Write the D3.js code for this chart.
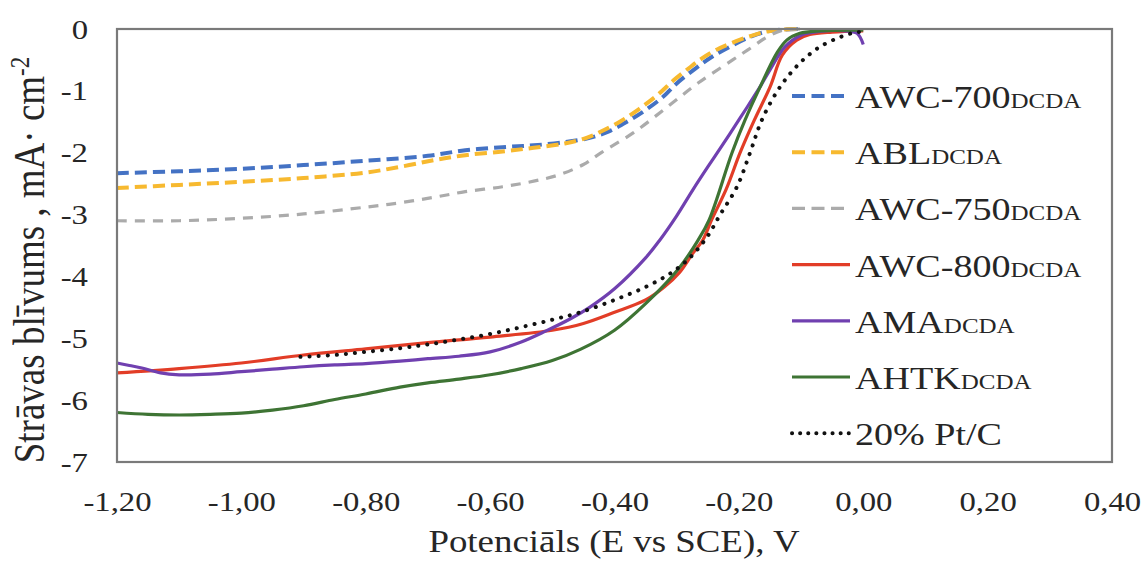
<!DOCTYPE html>
<html>
<head>
<meta charset="utf-8">
<script src="https://cdn.jsdelivr.net/npm/d3@7"></script>
<style>
  html, body { margin: 0; padding: 0; background: #fff; }
  svg { display: block; }
</style>
</head>
<body>
<script>
// ---------- data (potential V vs SCE, current density mA/cm2) ----------
const xTicks = [-1.2, -1.0, -0.8, -0.6, -0.4, -0.2, 0.0, 0.2, 0.4];
const yTicks = [0, -1, -2, -3, -4, -5, -6, -7];

const legendNames = ["AWC-700", "ABL", "AWC-750", "AWC-800", "AMA", "AHTK", "20% Pt/C"];
const legendSubs  = ["DCDA", "DCDA", "DCDA", "DCDA", "DCDA", "DCDA", ""];

const awc700 = [[-1.20,-2.33],[-1.10,-2.30],[-1.00,-2.26],[-0.90,-2.20],[-0.80,-2.13],[-0.70,-2.05],[-0.64,-1.96],[-0.58,-1.91],[-0.53,-1.88],[-0.48,-1.83],[-0.44,-1.76],[-0.41,-1.66],[-0.38,-1.50],[-0.35,-1.31],[-0.32,-1.08],[-0.30,-0.88],[-0.27,-0.64],[-0.245,-0.46],[-0.215,-0.29],[-0.18,-0.12],[-0.155,-0.04],[-0.13,-0.01],[-0.10,0]];
const abl = [[-1.20,-2.57],[-1.10,-2.52],[-1.00,-2.47],[-0.90,-2.41],[-0.80,-2.32],[-0.74,-2.22],[-0.69,-2.12],[-0.64,-2.04],[-0.58,-1.98],[-0.53,-1.92],[-0.48,-1.85],[-0.445,-1.76],[-0.42,-1.65],[-0.39,-1.49],[-0.36,-1.29],[-0.33,-1.06],[-0.305,-0.83],[-0.28,-0.63],[-0.26,-0.48],[-0.235,-0.33],[-0.21,-0.22],[-0.18,-0.11],[-0.155,-0.04],[-0.13,-0.01],[-0.10,0]];
const awc750 = [[-1.20,-3.10],[-1.10,-3.10],[-1.00,-3.06],[-0.90,-2.99],[-0.80,-2.88],[-0.745,-2.81],[-0.69,-2.72],[-0.64,-2.63],[-0.58,-2.55],[-0.53,-2.46],[-0.49,-2.36],[-0.45,-2.19],[-0.42,-1.99],[-0.37,-1.68],[-0.315,-1.26],[-0.265,-0.87],[-0.21,-0.50],[-0.18,-0.30],[-0.155,-0.13],[-0.13,-0.02],[-0.10,0]];
const awc800 = [[-1.20,-5.56],[-1.10,-5.49],[-1.00,-5.40],[-0.90,-5.27],[-0.80,-5.17],[-0.70,-5.07],[-0.60,-4.98],[-0.50,-4.87],[-0.45,-4.76],[-0.40,-4.58],[-0.35,-4.38],[-0.32,-4.17],[-0.295,-3.93],[-0.275,-3.64],[-0.258,-3.41],[-0.244,-3.09],[-0.22,-2.58],[-0.198,-2.0],[-0.175,-1.47],[-0.15,-0.94],[-0.13,-0.42],[-0.107,-0.18],[-0.086,-0.09],[-0.05,-0.05],[0.0,-0.03]];
const ama = [[-1.20,-5.40],[-1.18,-5.44],[-1.16,-5.48],[-1.13,-5.56],[-1.10,-5.59],[-1.05,-5.58],[-1.00,-5.54],[-0.95,-5.50],[-0.90,-5.46],[-0.85,-5.43],[-0.80,-5.41],[-0.745,-5.37],[-0.70,-5.33],[-0.65,-5.29],[-0.60,-5.22],[-0.55,-5.06],[-0.51,-4.88],[-0.47,-4.68],[-0.44,-4.50],[-0.40,-4.20],[-0.35,-3.70],[-0.327,-3.41],[-0.30,-3.02],[-0.274,-2.60],[-0.25,-2.23],[-0.226,-1.87],[-0.20,-1.47],[-0.182,-1.19],[-0.165,-0.92],[-0.15,-0.66],[-0.126,-0.29],[-0.10,-0.10],[-0.07,-0.04],[-0.03,-0.03],[-0.01,-0.07],[0.0,-0.25]];
const ahtk = [[-1.20,-6.20],[-1.15,-6.23],[-1.10,-6.24],[-1.05,-6.23],[-1.00,-6.21],[-0.95,-6.16],[-0.90,-6.09],[-0.85,-5.99],[-0.80,-5.90],[-0.745,-5.79],[-0.70,-5.72],[-0.65,-5.66],[-0.60,-5.59],[-0.55,-5.49],[-0.50,-5.36],[-0.455,-5.18],[-0.40,-4.87],[-0.35,-4.44],[-0.295,-3.85],[-0.266,-3.42],[-0.248,-3.09],[-0.211,-2.0],[-0.19,-1.47],[-0.166,-0.94],[-0.139,-0.39],[-0.123,-0.18],[-0.102,-0.07],[-0.07,-0.03],[0.0,-0.02]];
const ptc = [[-0.905,-5.30],[-0.85,-5.27],[-0.80,-5.22],[-0.745,-5.16],[-0.70,-5.10],[-0.65,-5.02],[-0.60,-4.93],[-0.55,-4.82],[-0.50,-4.70],[-0.455,-4.58],[-0.40,-4.38],[-0.35,-4.17],[-0.31,-3.95],[-0.279,-3.70],[-0.251,-3.36],[-0.23,-3.0],[-0.203,-2.55],[-0.182,-2.0],[-0.163,-1.47],[-0.134,-0.94],[-0.102,-0.55],[-0.07,-0.29],[-0.037,-0.13],[-0.015,-0.06],[0.0,-0.04]];

// ---------- layout / style ----------
const W = 1143, H = 562;
const plot = { left: 117, right: 1112, top: 29, bottom: 462 };
const SX = 1.19; // horizontal text stretch of the original picture
const FONT = "'Liberation Serif', 'Times New Roman', serif";
const TEXT = "#262626";

const series = [
  { data: awc700, color: "#4472c4", width: 4,   dash: "12 6" },
  { data: abl,    color: "#f7b92f", width: 4,   dash: "12 6" },
  { data: awc750, color: "#ababab", width: 3.2, dash: "10 8" },
  { data: awc800, color: "#e23d27", width: 3.2, dash: null },
  { data: ama,    color: "#7040b0", width: 3.2, dash: null },
  { data: ahtk,   color: "#3e7434", width: 3.2, dash: null },
  { data: ptc,    color: "#111111", width: 4,   dash: "0.1 9", cap: "round" }
];

const svg = d3.select("body").append("svg").attr("width", W).attr("height", H);

const x = d3.scaleLinear().domain([-1.2, 0.4]).range([plot.left, plot.right]);
const y = d3.scaleLinear().domain([-7, 0]).range([plot.bottom, plot.top]);

// curves
const line = d3.line().x(d => x(d[0])).y(d => Math.max(y(d[1]), plot.top)).curve(d3.curveCatmullRom.alpha(0.5));
const gLines = svg.append("g");
series.forEach(s => {
  gLines.append("path")
    .attr("d", line(s.data))
    .attr("fill", "none")
    .attr("stroke", s.color)
    .attr("stroke-width", s.width)
    .attr("stroke-dasharray", s.dash)
    .attr("stroke-linecap", s.cap || "butt")
    .attr("stroke-linejoin", "round");
});

// frame
svg.append("rect")
  .attr("x", plot.left).attr("y", plot.top)
  .attr("width", plot.right - plot.left).attr("height", plot.bottom - plot.top)
  .attr("fill", "none").attr("stroke", "#7a7a7a").attr("stroke-width", 2.2);

// axes
const fmtX = d => { const s = Math.abs(d) < 1e-9 ? "0.00" : d.toFixed(2); return s.replace(".", ","); };
const gx = svg.append("g").attr("transform", `translate(0,${plot.bottom})`)
  .call(d3.axisBottom(x).tickValues(xTicks).tickSize(0).tickFormat(fmtX));
gx.select(".domain").remove();
gx.selectAll("text")
  .attr("y", null).attr("dy", null)
  .attr("transform", `translate(0,49) scale(${SX},1)`)
  .attr("text-anchor", "middle")
  .style("font-family", FONT).style("font-size", "27.5px").attr("fill", TEXT);

const gy = svg.append("g").attr("transform", `translate(${plot.left},0)`)
  .call(d3.axisLeft(y).tickValues(yTicks).tickSize(0).tickFormat(d => String(d)));
gy.select(".domain").remove();
gy.selectAll("text")
  .attr("x", null).attr("dy", null)
  .attr("transform", `translate(-29,9) scale(${SX},1)`)
  .attr("text-anchor", "end")
  .style("font-family", FONT).style("font-size", "27.5px").attr("fill", TEXT);

// axis titles
svg.append("text")
  .attr("transform", `translate(614,552) scale(${SX},1)`)
  .attr("text-anchor", "middle")
  .style("font-family", FONT).style("font-size", "31px").attr("fill", TEXT)
  .text("Potenciāls (E vs SCE), V");

const yt = svg.append("text")
  .attr("transform", `translate(44,260) scale(${SX},1) rotate(-90)`)
  .attr("text-anchor", "middle")
  .style("font-family", FONT).style("font-size", "37px").attr("fill", TEXT);
yt.append("tspan").text("Strāvas blīvums , mA· cm");
yt.append("tspan").attr("dy", -13).style("font-size", "23px").text("-2");

// legend
const lg = svg.append("g");
legendNames.forEach((name, i) => {
  const s = series[i];
  const ly = 96 + i * 56.2;
  lg.append("line")
    .attr("x1", 792).attr("x2", 850).attr("y1", ly).attr("y2", ly)
    .attr("stroke", s.color).attr("stroke-width", s.width)
    .attr("stroke-dasharray", s.dash ? (s.cap ? "0.1 8" : "13 6.5") : null)
    .attr("stroke-linecap", s.cap || "butt");
  const t = lg.append("text")
    .attr("transform", `translate(855,${ly + 12}) scale(${SX},1)`)
    .style("font-family", FONT).style("font-size", "32px").attr("fill", TEXT);
  t.append("tspan").text(name);
  if (legendSubs[i]) t.append("tspan").style("font-size", "21px").text(legendSubs[i]);
});
</script>
</body>
</html>
